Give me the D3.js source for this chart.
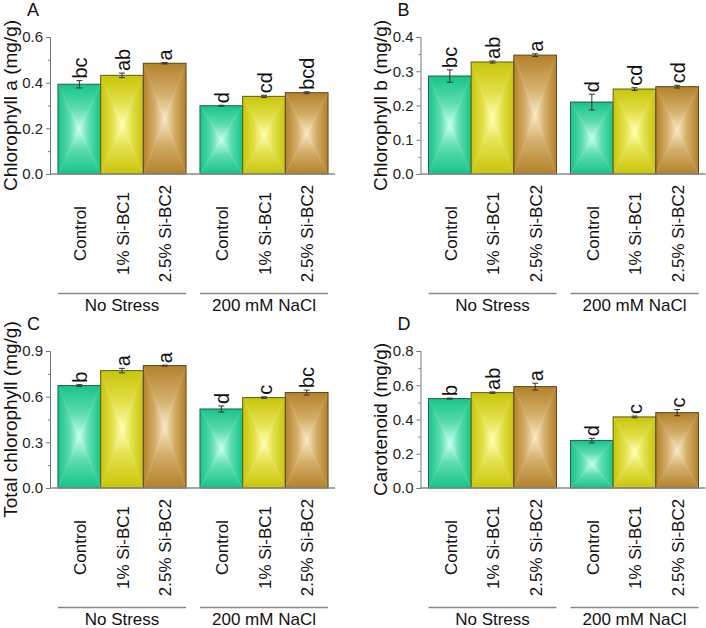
<!DOCTYPE html>
<html>
<head>
<meta charset="utf-8">
<script src="https://cdn.jsdelivr.net/npm/d3@7"></script>
<style>
  html, body { margin: 0; padding: 0; background: #fff; }
  svg { display: block; font-family: Arial, "Liberation Sans", sans-serif; }
</style>
</head>
<body>
<svg id="chart" width="706" height="628"></svg>
<script>
// ---------------- data ----------------
const groups = ["No Stress", "200 mM NaCl"];
const treatments = ["Control", "1% Si-BC1", "2.5% Si-BC2"];

const chlA        = [0.393, 0.432, 0.485, 0.299, 0.340, 0.356];
const chlAErr     = [0.016, 0.010, 0.003, 0.002, 0.005, 0.004];
const chlALetters = ["bc", "ab", "a", "d", "cd", "bcd"];

const chlB        = [0.286, 0.327, 0.347, 0.210, 0.248, 0.255];
const chlBErr     = [0.018, 0.003, 0.004, 0.023, 0.004, 0.004];
const chlBLetters = ["bc", "ab", "a", "d", "cd", "cd"];

const chlT        = [0.673, 0.771, 0.804, 0.519, 0.594, 0.627];
const chlTErr     = [0.006, 0.015, 0.003, 0.020, 0.005, 0.016];
const chlTLetters = ["b", "a", "a", "d", "c", "bc"];

const carot        = [0.522, 0.557, 0.592, 0.277, 0.415, 0.440];
const carotErr     = [0.003, 0.004, 0.020, 0.013, 0.005, 0.018];
const carotLetters = ["b", "ab", "a", "d", "c", "c"];

const panelLabels = ["A", "B", "C", "D"];
const yTitles = ["Chlorophyll a (mg/g)", "Chlorophyll b (mg/g)", "Total chlorophyll (mg/g)", "Carotenoid (mg/g)"];
const yMax = [0.6, 0.4, 0.9, 0.8];
const yStep = [0.2, 0.1, 0.3, 0.2];

// colours per treatment: edge, mid, centre
const barColors = [
  ["#17c488", "#5ddcae", "#c4fff0"],
  ["#c8c50a", "#e3e04a", "#ffffb0"],
  ["#b3822a", "#d3ae6a", "#f9e8c4"]
];
const barStroke = ["#2f5e4c", "#5f5e1c", "#5e4620"];

const panelData = [
  {v: chlA, e: chlAErr, l: chlALetters},
  {v: chlB, e: chlBErr, l: chlBLetters},
  {v: chlT, e: chlTErr, l: chlTLetters},
  {v: carot, e: carotErr, l: carotLetters}
];

// ---------------- layout ----------------
const svg = d3.select("#chart");
const axisXs = [50, 420.5];
const tops = [37, 351];
const bottoms = [174, 488];

// gradients
const defs = svg.append("defs");
const dirs = {
  top:    {x1: 0, y1: 0, x2: 0, y2: 1},
  bottom: {x1: 0, y1: 1, x2: 0, y2: 0},
  left:   {x1: 0, y1: 0, x2: 1, y2: 0},
  right:  {x1: 1, y1: 0, x2: 0, y2: 0}
};
barColors.forEach((c, i) => {
  Object.entries(dirs).forEach(([k, d]) => {
    const g = defs.append("linearGradient")
      .attr("id", `g${i}${k}`)
      .attr("x1", d.x1).attr("y1", d.y1).attr("x2", d.x2).attr("y2", d.y2);
    g.append("stop").attr("offset", 0).attr("stop-color", c[0]);
    g.append("stop").attr("offset", 0.55).attr("stop-color", c[1]);
    g.append("stop").attr("offset", 1).attr("stop-color", c[2]);
  });
});

panelData.forEach((pd, p) => {
  const col = p % 2, row = Math.floor(p / 2);
  const ax = axisXs[col];
  const top = tops[row], bottom = bottoms[row];
  const g = svg.append("g");

  const y = d3.scaleLinear().domain([0, yMax[p]]).range([bottom, top]);
  const xGroup = d3.scaleBand().domain(groups).range([ax + 8, ax + 278]).paddingInner(0.0986).paddingOuter(0);
  const xTreat = d3.scaleBand().domain(treatments).range([0, xGroup.bandwidth()]).padding(0);

  const rows = pd.v.map((v, i) => ({
    group: groups[Math.floor(i / 3)],
    treat: treatments[i % 3],
    ti: i % 3,
    v: v, e: pd.e[i], l: pd.l[i]
  }));

  // bars with pyramid shading
  rows.forEach(r => {
    const x0 = xGroup(r.group) + xTreat(r.treat);
    const x1 = x0 + xTreat.bandwidth();
    const y0 = y(r.v), y1 = y(0);
    const cx = (x0 + x1) / 2, cy = (y0 + y1) / 2;
    const tris = {
      top:    [[x0, y0], [x1, y0], [cx, cy]],
      bottom: [[x0, y1], [x1, y1], [cx, cy]],
      left:   [[x0, y0], [x0, y1], [cx, cy]],
      right:  [[x1, y0], [x1, y1], [cx, cy]]
    };
    Object.entries(tris).forEach(([k, pts]) => {
      g.append("polygon")
        .attr("points", pts.map(q => q.join(",")).join(" "))
        .attr("fill", `url(#g${r.ti}${k})`)
        .attr("stroke", `url(#g${r.ti}${k})`)
        .attr("stroke-width", 0.3);
    });
    g.append("rect")
      .attr("x", x0).attr("y", y0)
      .attr("width", x1 - x0).attr("height", y1 - y0)
      .attr("fill", "none")
      .attr("stroke", barStroke[r.ti])
      .attr("stroke-width", 1);

    // error bar
    const ey0 = y(r.v - r.e), ey1 = y(r.v + r.e);
    const eg = g.append("g").attr("stroke", "#333").attr("stroke-width", 1);
    eg.append("line").attr("x1", cx).attr("x2", cx).attr("y1", ey0).attr("y2", ey1);
    eg.append("line").attr("x1", cx - 3).attr("x2", cx + 3).attr("y1", ey0).attr("y2", ey0);
    eg.append("line").attr("x1", cx - 3).attr("x2", cx + 3).attr("y1", ey1).attr("y2", ey1);

    // significance letter
    g.append("text")
      .attr("transform", `translate(${cx},${ey1 - 2}) rotate(-90)`)
      .attr("dy", "0.38em")
      .attr("text-anchor", "start")
      .attr("font-size", 20)
      .attr("fill", "#111")
      .text(r.l);

    // category label
    g.append("text")
      .attr("transform", `translate(${cx},${bottom + 59.5}) rotate(-90)`)
      .attr("dy", "0.4em")
      .attr("text-anchor", "middle")
      .attr("font-size", 17)
      .attr("fill", "#111")
      .text(r.treat);
  });

  // y axis
  const ticks = d3.range(0, yMax[p] + 1e-9, yStep[p]);
  const minor = d3.range(yStep[p] / 2, yMax[p], yStep[p]);
  const yAxis = d3.axisLeft(y).tickValues(ticks).tickFormat(d3.format(".1f")).tickSize(4).tickPadding(3);
  const ya = g.append("g").attr("transform", `translate(${ax},0)`).call(yAxis);
  ya.select(".domain").attr("stroke", "#777").attr("stroke-width", 1);
  ya.selectAll(".tick line").attr("stroke", "#777");
  ya.selectAll(".tick text").attr("font-size", 15).attr("fill", "#222").attr("font-family", "Arial, 'Liberation Sans', sans-serif");
  const ym = d3.axisLeft(y).tickValues(minor).tickFormat("").tickSize(2);
  const yma = g.append("g").attr("transform", `translate(${ax},0)`).call(ym);
  yma.select(".domain").remove();
  yma.selectAll(".tick line").attr("stroke", "#777");

  // x axis baseline
  g.append("line")
    .attr("x1", ax).attr("x2", xGroup.range()[1] + 7)
    .attr("y1", y(0)).attr("y2", y(0))
    .attr("stroke", "#888").attr("stroke-width", 1.6);

  // group lines and labels
  groups.forEach(gr => {
    const gx0 = xGroup(gr), gx1 = gx0 + xGroup.bandwidth();
    g.append("line")
      .attr("x1", gx0).attr("x2", gx1)
      .attr("y1", bottom + 119.5).attr("y2", bottom + 119.5)
      .attr("stroke", "#888").attr("stroke-width", 1.5);
    g.append("text")
      .attr("x", (gx0 + gx1) / 2).attr("y", bottom + 137)
      .attr("text-anchor", "middle")
      .attr("font-size", 17)
      .attr("fill", "#111")
      .text(gr);
  });

  // y title
  g.append("text")
    .attr("transform", `translate(${ax - 33.5},${(top + bottom) / 2}) rotate(-90)`)
    .attr("text-anchor", "middle")
    .attr("font-size", 19)
    .attr("fill", "#111")
    .text(yTitles[p]);

  // panel label
  g.append("text")
    .attr("x", ax - 23).attr("y", top - 21.5)
    .attr("font-size", 18)
    .attr("fill", "#111")
    .text(panelLabels[p]);
});
</script>
</body>
</html>
